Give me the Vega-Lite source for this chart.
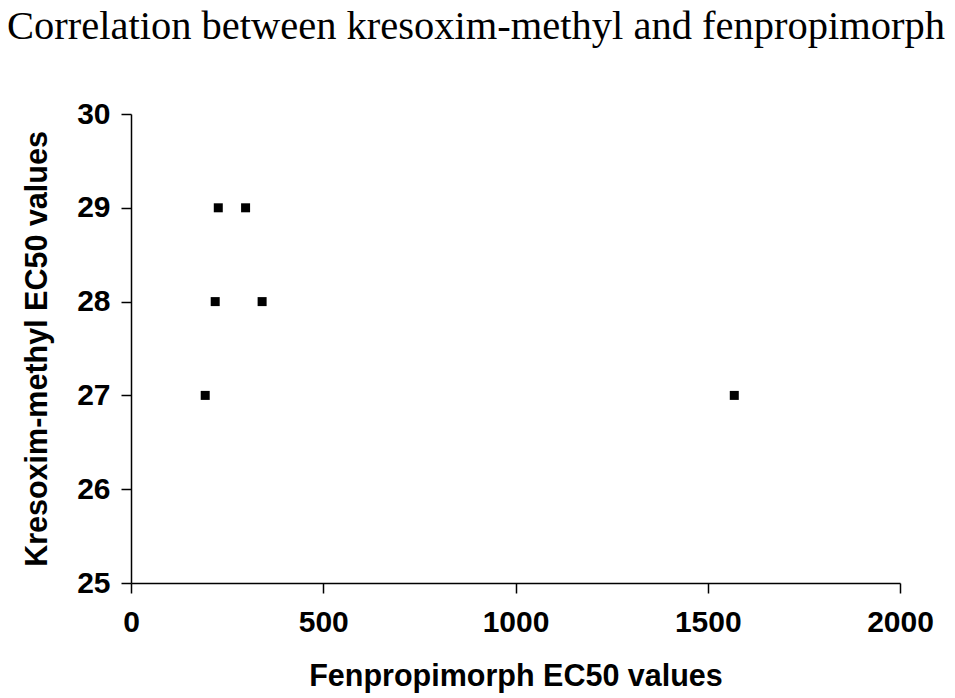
{
  "$schema": "https://vega.github.io/schema/vega-lite/v6.json",
  "autosize": {"type": "none"},
  "width": 769,
  "height": 469,
  "padding": {"left": 131, "top": 114, "right": 55, "bottom": 115},
  "background": "white",
  "title": {
    "text": "Correlation between kresoxim-methyl and fenpropimorph",
    "font": "Liberation Serif",
    "fontSize": 40.5,
    "fontWeight": "normal",
    "color": "black",
    "anchor": "start",
    "frame": "group",
    "baseline": "alphabetic",
    "dx": -124,
    "offset": 20
  },
  "config": {
    "view": {"stroke": null},
    "axis": {
      "grid": false,
      "domainColor": "black",
      "domainWidth": 1.5,
      "tickColor": "black",
      "tickWidth": 1.5,
      "tickSize": 10,
      "labelFont": "Liberation Sans",
      "labelFontSize": 30,
      "labelFontWeight": "bold",
      "labelColor": "black",
      "titleFont": "Liberation Sans",
      "titleFontSize": 30.5,
      "titleFontWeight": "bold",
      "titleColor": "black"
    }
  },
  "data": {
    "values": [
      {"fen": 193, "kre": 27},
      {"fen": 219, "kre": 28},
      {"fen": 227, "kre": 29},
      {"fen": 298, "kre": 29},
      {"fen": 341, "kre": 28},
      {"fen": 1569, "kre": 27}
    ]
  },
  "mark": {"type": "point", "shape": "square", "filled": true, "color": "black", "opacity": 1, "size": 81},
  "encoding": {
    "x": {
      "field": "fen",
      "type": "quantitative",
      "scale": {"domain": [0, 2000], "nice": false},
      "axis": {"title": "Fenpropimorph EC50 values", "values": [0, 500, 1000, 1500, 2000], "format": "d", "labelPadding": 14, "titlePadding": 24, "labelFlush": false}
    },
    "y": {
      "field": "kre",
      "type": "quantitative",
      "scale": {"domain": [25, 30], "nice": false, "zero": false},
      "axis": {"title": "Kresoxim-methyl EC50 values", "values": [25, 26, 27, 28, 29, 30], "format": "d", "labelPadding": 11, "titlePadding": 24, "labelFlush": false}
    }
  }
}
